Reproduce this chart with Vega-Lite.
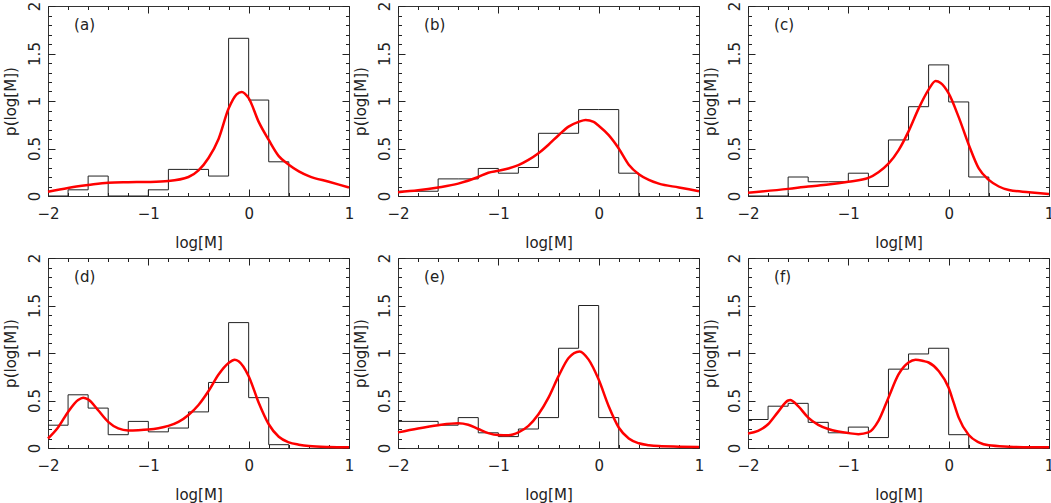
{
  "$schema": "https://vega.github.io/schema/vega-lite/v6.json",
  "padding": {"left": 2, "top": 0, "right": 0, "bottom": 0},
  "data": {
    "values": [
      {"panel": "a", "kind": "hist", "x": -2, "y": 0},
      {"panel": "a", "kind": "hist", "x": -1.8, "y": 0.065},
      {"panel": "a", "kind": "hist", "x": -1.6, "y": 0.21},
      {"panel": "a", "kind": "hist", "x": -1.4, "y": 0},
      {"panel": "a", "kind": "hist", "x": -1.2, "y": 0},
      {"panel": "a", "kind": "hist", "x": -1.0, "y": 0.065},
      {"panel": "a", "kind": "hist", "x": -0.8, "y": 0.28},
      {"panel": "a", "kind": "hist", "x": -0.6, "y": 0.28},
      {"panel": "a", "kind": "hist", "x": -0.4, "y": 0.21},
      {"panel": "a", "kind": "hist", "x": -0.2, "y": 1.66},
      {"panel": "a", "kind": "hist", "x": 0, "y": 1.01},
      {"panel": "a", "kind": "hist", "x": 0.2, "y": 0.36},
      {"panel": "a", "kind": "hist", "x": 0.4, "y": 0},

      {"panel": "b", "kind": "hist", "x": -2, "y": 0.05},
      {"panel": "b", "kind": "hist", "x": -1.8, "y": 0.05},
      {"panel": "b", "kind": "hist", "x": -1.6, "y": 0.18},
      {"panel": "b", "kind": "hist", "x": -1.4, "y": 0.18},
      {"panel": "b", "kind": "hist", "x": -1.2, "y": 0.29},
      {"panel": "b", "kind": "hist", "x": -1.0, "y": 0.24},
      {"panel": "b", "kind": "hist", "x": -0.8, "y": 0.3},
      {"panel": "b", "kind": "hist", "x": -0.6, "y": 0.66},
      {"panel": "b", "kind": "hist", "x": -0.4, "y": 0.66},
      {"panel": "b", "kind": "hist", "x": -0.2, "y": 0.91},
      {"panel": "b", "kind": "hist", "x": 0, "y": 0.91},
      {"panel": "b", "kind": "hist", "x": 0.2, "y": 0.24},
      {"panel": "b", "kind": "hist", "x": 0.4, "y": 0},

      {"panel": "c", "kind": "hist", "x": -2, "y": 0},
      {"panel": "c", "kind": "hist", "x": -1.8, "y": 0},
      {"panel": "c", "kind": "hist", "x": -1.6, "y": 0.2},
      {"panel": "c", "kind": "hist", "x": -1.4, "y": 0.15},
      {"panel": "c", "kind": "hist", "x": -1.2, "y": 0.15},
      {"panel": "c", "kind": "hist", "x": -1.0, "y": 0.24},
      {"panel": "c", "kind": "hist", "x": -0.8, "y": 0.1},
      {"panel": "c", "kind": "hist", "x": -0.6, "y": 0.59},
      {"panel": "c", "kind": "hist", "x": -0.4, "y": 0.94},
      {"panel": "c", "kind": "hist", "x": -0.2, "y": 1.38},
      {"panel": "c", "kind": "hist", "x": 0, "y": 0.99},
      {"panel": "c", "kind": "hist", "x": 0.2, "y": 0.2},
      {"panel": "c", "kind": "hist", "x": 0.4, "y": 0},

      {"panel": "d", "kind": "hist", "x": -2, "y": 0.24},
      {"panel": "d", "kind": "hist", "x": -1.8, "y": 0.56},
      {"panel": "d", "kind": "hist", "x": -1.6, "y": 0.42},
      {"panel": "d", "kind": "hist", "x": -1.4, "y": 0.14},
      {"panel": "d", "kind": "hist", "x": -1.2, "y": 0.28},
      {"panel": "d", "kind": "hist", "x": -1.0, "y": 0.17},
      {"panel": "d", "kind": "hist", "x": -0.8, "y": 0.21},
      {"panel": "d", "kind": "hist", "x": -0.6, "y": 0.38},
      {"panel": "d", "kind": "hist", "x": -0.4, "y": 0.69},
      {"panel": "d", "kind": "hist", "x": -0.2, "y": 1.32},
      {"panel": "d", "kind": "hist", "x": 0, "y": 0.53},
      {"panel": "d", "kind": "hist", "x": 0.2, "y": 0.035},
      {"panel": "d", "kind": "hist", "x": 0.4, "y": 0},

      {"panel": "e", "kind": "hist", "x": -2, "y": 0.28},
      {"panel": "e", "kind": "hist", "x": -1.8, "y": 0.28},
      {"panel": "e", "kind": "hist", "x": -1.6, "y": 0.24},
      {"panel": "e", "kind": "hist", "x": -1.4, "y": 0.32},
      {"panel": "e", "kind": "hist", "x": -1.2, "y": 0.16},
      {"panel": "e", "kind": "hist", "x": -1.0, "y": 0.12},
      {"panel": "e", "kind": "hist", "x": -0.8, "y": 0.2},
      {"panel": "e", "kind": "hist", "x": -0.6, "y": 0.32},
      {"panel": "e", "kind": "hist", "x": -0.4, "y": 1.05},
      {"panel": "e", "kind": "hist", "x": -0.2, "y": 1.5},
      {"panel": "e", "kind": "hist", "x": 0, "y": 0.32},
      {"panel": "e", "kind": "hist", "x": 0.2, "y": 0},

      {"panel": "f", "kind": "hist", "x": -2, "y": 0.3},
      {"panel": "f", "kind": "hist", "x": -1.8, "y": 0.44},
      {"panel": "f", "kind": "hist", "x": -1.6, "y": 0.47},
      {"panel": "f", "kind": "hist", "x": -1.4, "y": 0.27},
      {"panel": "f", "kind": "hist", "x": -1.2, "y": 0.16},
      {"panel": "f", "kind": "hist", "x": -1.0, "y": 0.22},
      {"panel": "f", "kind": "hist", "x": -0.8, "y": 0.11},
      {"panel": "f", "kind": "hist", "x": -0.6, "y": 0.83},
      {"panel": "f", "kind": "hist", "x": -0.4, "y": 0.99},
      {"panel": "f", "kind": "hist", "x": -0.2, "y": 1.05},
      {"panel": "f", "kind": "hist", "x": 0, "y": 0.14},
      {"panel": "f", "kind": "hist", "x": 0.2, "y": 0},

      {"panel": "a", "kind": "fit", "x": -2, "y": 0.045},
      {"panel": "a", "kind": "fit", "x": -1.8, "y": 0.085},
      {"panel": "a", "kind": "fit", "x": -1.6, "y": 0.115},
      {"panel": "a", "kind": "fit", "x": -1.4, "y": 0.14},
      {"panel": "a", "kind": "fit", "x": -1.2, "y": 0.145},
      {"panel": "a", "kind": "fit", "x": -1.0, "y": 0.148},
      {"panel": "a", "kind": "fit", "x": -0.8, "y": 0.158},
      {"panel": "a", "kind": "fit", "x": -0.6, "y": 0.2},
      {"panel": "a", "kind": "fit", "x": -0.5, "y": 0.27},
      {"panel": "a", "kind": "fit", "x": -0.4, "y": 0.4},
      {"panel": "a", "kind": "fit", "x": -0.3, "y": 0.6},
      {"panel": "a", "kind": "fit", "x": -0.2, "y": 0.92},
      {"panel": "a", "kind": "fit", "x": -0.12, "y": 1.07},
      {"panel": "a", "kind": "fit", "x": -0.07, "y": 1.096},
      {"panel": "a", "kind": "fit", "x": 0, "y": 1.03},
      {"panel": "a", "kind": "fit", "x": 0.1, "y": 0.78},
      {"panel": "a", "kind": "fit", "x": 0.2, "y": 0.59},
      {"panel": "a", "kind": "fit", "x": 0.3, "y": 0.42},
      {"panel": "a", "kind": "fit", "x": 0.4, "y": 0.33},
      {"panel": "a", "kind": "fit", "x": 0.5, "y": 0.26},
      {"panel": "a", "kind": "fit", "x": 0.6, "y": 0.21},
      {"panel": "a", "kind": "fit", "x": 0.8, "y": 0.15},
      {"panel": "a", "kind": "fit", "x": 1.0, "y": 0.09},

      {"panel": "b", "kind": "fit", "x": -2, "y": 0.04},
      {"panel": "b", "kind": "fit", "x": -1.8, "y": 0.06},
      {"panel": "b", "kind": "fit", "x": -1.6, "y": 0.09},
      {"panel": "b", "kind": "fit", "x": -1.4, "y": 0.13},
      {"panel": "b", "kind": "fit", "x": -1.2, "y": 0.2},
      {"panel": "b", "kind": "fit", "x": -1.1, "y": 0.245},
      {"panel": "b", "kind": "fit", "x": -1.0, "y": 0.265},
      {"panel": "b", "kind": "fit", "x": -0.9, "y": 0.29},
      {"panel": "b", "kind": "fit", "x": -0.8, "y": 0.325},
      {"panel": "b", "kind": "fit", "x": -0.7, "y": 0.38},
      {"panel": "b", "kind": "fit", "x": -0.6, "y": 0.45},
      {"panel": "b", "kind": "fit", "x": -0.5, "y": 0.54},
      {"panel": "b", "kind": "fit", "x": -0.4, "y": 0.64},
      {"panel": "b", "kind": "fit", "x": -0.3, "y": 0.73},
      {"panel": "b", "kind": "fit", "x": -0.2, "y": 0.78},
      {"panel": "b", "kind": "fit", "x": -0.13, "y": 0.8},
      {"panel": "b", "kind": "fit", "x": -0.05, "y": 0.78},
      {"panel": "b", "kind": "fit", "x": 0, "y": 0.74},
      {"panel": "b", "kind": "fit", "x": 0.1, "y": 0.64},
      {"panel": "b", "kind": "fit", "x": 0.2, "y": 0.5},
      {"panel": "b", "kind": "fit", "x": 0.3, "y": 0.33},
      {"panel": "b", "kind": "fit", "x": 0.4, "y": 0.23},
      {"panel": "b", "kind": "fit", "x": 0.5, "y": 0.17},
      {"panel": "b", "kind": "fit", "x": 0.6, "y": 0.13},
      {"panel": "b", "kind": "fit", "x": 0.8, "y": 0.09},
      {"panel": "b", "kind": "fit", "x": 1.0, "y": 0.05},

      {"panel": "c", "kind": "fit", "x": -2, "y": 0.035},
      {"panel": "c", "kind": "fit", "x": -1.6, "y": 0.075},
      {"panel": "c", "kind": "fit", "x": -1.4, "y": 0.1},
      {"panel": "c", "kind": "fit", "x": -1.2, "y": 0.12},
      {"panel": "c", "kind": "fit", "x": -1.0, "y": 0.15},
      {"panel": "c", "kind": "fit", "x": -0.8, "y": 0.19},
      {"panel": "c", "kind": "fit", "x": -0.7, "y": 0.25},
      {"panel": "c", "kind": "fit", "x": -0.6, "y": 0.34},
      {"panel": "c", "kind": "fit", "x": -0.5, "y": 0.48},
      {"panel": "c", "kind": "fit", "x": -0.4, "y": 0.68},
      {"panel": "c", "kind": "fit", "x": -0.3, "y": 0.92},
      {"panel": "c", "kind": "fit", "x": -0.2, "y": 1.12},
      {"panel": "c", "kind": "fit", "x": -0.13, "y": 1.21},
      {"panel": "c", "kind": "fit", "x": -0.08, "y": 1.19},
      {"panel": "c", "kind": "fit", "x": 0, "y": 1.08},
      {"panel": "c", "kind": "fit", "x": 0.1, "y": 0.83},
      {"panel": "c", "kind": "fit", "x": 0.2, "y": 0.54},
      {"panel": "c", "kind": "fit", "x": 0.3, "y": 0.29},
      {"panel": "c", "kind": "fit", "x": 0.4, "y": 0.17},
      {"panel": "c", "kind": "fit", "x": 0.5, "y": 0.1},
      {"panel": "c", "kind": "fit", "x": 0.6, "y": 0.063},
      {"panel": "c", "kind": "fit", "x": 0.8, "y": 0.04},
      {"panel": "c", "kind": "fit", "x": 1.0, "y": 0.02},

      {"panel": "d", "kind": "fit", "x": -2, "y": 0.1},
      {"panel": "d", "kind": "fit", "x": -1.9, "y": 0.216},
      {"panel": "d", "kind": "fit", "x": -1.8, "y": 0.38},
      {"panel": "d", "kind": "fit", "x": -1.7, "y": 0.505},
      {"panel": "d", "kind": "fit", "x": -1.65, "y": 0.53},
      {"panel": "d", "kind": "fit", "x": -1.6, "y": 0.512},
      {"panel": "d", "kind": "fit", "x": -1.5, "y": 0.397},
      {"panel": "d", "kind": "fit", "x": -1.4, "y": 0.275},
      {"panel": "d", "kind": "fit", "x": -1.3, "y": 0.206},
      {"panel": "d", "kind": "fit", "x": -1.2, "y": 0.185},
      {"panel": "d", "kind": "fit", "x": -1.1, "y": 0.188},
      {"panel": "d", "kind": "fit", "x": -1.0, "y": 0.195},
      {"panel": "d", "kind": "fit", "x": -0.9, "y": 0.209},
      {"panel": "d", "kind": "fit", "x": -0.8, "y": 0.233},
      {"panel": "d", "kind": "fit", "x": -0.7, "y": 0.275},
      {"panel": "d", "kind": "fit", "x": -0.6, "y": 0.348},
      {"panel": "d", "kind": "fit", "x": -0.5, "y": 0.453},
      {"panel": "d", "kind": "fit", "x": -0.4, "y": 0.6},
      {"panel": "d", "kind": "fit", "x": -0.3, "y": 0.774},
      {"panel": "d", "kind": "fit", "x": -0.2, "y": 0.895},
      {"panel": "d", "kind": "fit", "x": -0.14, "y": 0.93},
      {"panel": "d", "kind": "fit", "x": -0.1, "y": 0.913},
      {"panel": "d", "kind": "fit", "x": 0, "y": 0.756},
      {"panel": "d", "kind": "fit", "x": 0.1, "y": 0.477},
      {"panel": "d", "kind": "fit", "x": 0.2, "y": 0.25},
      {"panel": "d", "kind": "fit", "x": 0.3, "y": 0.118},
      {"panel": "d", "kind": "fit", "x": 0.4, "y": 0.06},
      {"panel": "d", "kind": "fit", "x": 0.5, "y": 0.035},
      {"panel": "d", "kind": "fit", "x": 0.6, "y": 0.02},
      {"panel": "d", "kind": "fit", "x": 0.8, "y": 0.01},
      {"panel": "d", "kind": "fit", "x": 1.0, "y": 0.007},

      {"panel": "e", "kind": "fit", "x": -2, "y": 0.164},
      {"panel": "e", "kind": "fit", "x": -1.8, "y": 0.206},
      {"panel": "e", "kind": "fit", "x": -1.6, "y": 0.24},
      {"panel": "e", "kind": "fit", "x": -1.4, "y": 0.26},
      {"panel": "e", "kind": "fit", "x": -1.3, "y": 0.244},
      {"panel": "e", "kind": "fit", "x": -1.2, "y": 0.2},
      {"panel": "e", "kind": "fit", "x": -1.1, "y": 0.157},
      {"panel": "e", "kind": "fit", "x": -1.0, "y": 0.136},
      {"panel": "e", "kind": "fit", "x": -0.9, "y": 0.134},
      {"panel": "e", "kind": "fit", "x": -0.8, "y": 0.164},
      {"panel": "e", "kind": "fit", "x": -0.7, "y": 0.233},
      {"panel": "e", "kind": "fit", "x": -0.6, "y": 0.355},
      {"panel": "e", "kind": "fit", "x": -0.5, "y": 0.53},
      {"panel": "e", "kind": "fit", "x": -0.4, "y": 0.756},
      {"panel": "e", "kind": "fit", "x": -0.3, "y": 0.948},
      {"panel": "e", "kind": "fit", "x": -0.19, "y": 1.017},
      {"panel": "e", "kind": "fit", "x": -0.1, "y": 0.93},
      {"panel": "e", "kind": "fit", "x": 0, "y": 0.72},
      {"panel": "e", "kind": "fit", "x": 0.1, "y": 0.44},
      {"panel": "e", "kind": "fit", "x": 0.2, "y": 0.216},
      {"panel": "e", "kind": "fit", "x": 0.3, "y": 0.1},
      {"panel": "e", "kind": "fit", "x": 0.4, "y": 0.05},
      {"panel": "e", "kind": "fit", "x": 0.5, "y": 0.03},
      {"panel": "e", "kind": "fit", "x": 0.6, "y": 0.02},
      {"panel": "e", "kind": "fit", "x": 0.8, "y": 0.014},
      {"panel": "e", "kind": "fit", "x": 1.0, "y": 0.01},

      {"panel": "f", "kind": "fit", "x": -2, "y": 0.153},
      {"panel": "f", "kind": "fit", "x": -1.9, "y": 0.18},
      {"panel": "f", "kind": "fit", "x": -1.8, "y": 0.25},
      {"panel": "f", "kind": "fit", "x": -1.7, "y": 0.38},
      {"panel": "f", "kind": "fit", "x": -1.6, "y": 0.5},
      {"panel": "f", "kind": "fit", "x": -1.58, "y": 0.505},
      {"panel": "f", "kind": "fit", "x": -1.5, "y": 0.44},
      {"panel": "f", "kind": "fit", "x": -1.4, "y": 0.32},
      {"panel": "f", "kind": "fit", "x": -1.3, "y": 0.244},
      {"panel": "f", "kind": "fit", "x": -1.2, "y": 0.2},
      {"panel": "f", "kind": "fit", "x": -1.1, "y": 0.174},
      {"panel": "f", "kind": "fit", "x": -1.0, "y": 0.157},
      {"panel": "f", "kind": "fit", "x": -0.9, "y": 0.146},
      {"panel": "f", "kind": "fit", "x": -0.8, "y": 0.164},
      {"panel": "f", "kind": "fit", "x": -0.7, "y": 0.286},
      {"panel": "f", "kind": "fit", "x": -0.6, "y": 0.53},
      {"panel": "f", "kind": "fit", "x": -0.5, "y": 0.774},
      {"panel": "f", "kind": "fit", "x": -0.4, "y": 0.9},
      {"panel": "f", "kind": "fit", "x": -0.33, "y": 0.93},
      {"panel": "f", "kind": "fit", "x": -0.25, "y": 0.915},
      {"panel": "f", "kind": "fit", "x": -0.2, "y": 0.9},
      {"panel": "f", "kind": "fit", "x": -0.1, "y": 0.81},
      {"panel": "f", "kind": "fit", "x": 0, "y": 0.634},
      {"panel": "f", "kind": "fit", "x": 0.05, "y": 0.477},
      {"panel": "f", "kind": "fit", "x": 0.1, "y": 0.32},
      {"panel": "f", "kind": "fit", "x": 0.2, "y": 0.136},
      {"panel": "f", "kind": "fit", "x": 0.3, "y": 0.06},
      {"panel": "f", "kind": "fit", "x": 0.4, "y": 0.028},
      {"panel": "f", "kind": "fit", "x": 0.6, "y": 0.014},
      {"panel": "f", "kind": "fit", "x": 0.8, "y": 0.007},
      {"panel": "f", "kind": "fit", "x": 1.0, "y": 0.007},

      {"panel": "a", "kind": "label", "label": "(a)"},
      {"panel": "b", "kind": "label", "label": "(b)"},
      {"panel": "c", "kind": "label", "label": "(c)"},
      {"panel": "d", "kind": "label", "label": "(d)"},
      {"panel": "e", "kind": "label", "label": "(e)"},
      {"panel": "f", "kind": "label", "label": "(f)"}
    ]
  },
  "columns": 3,
  "spacing": {"row": 62, "column": 49},
  "bounds": "flush",
  "concat": [
    {
      "width": 301, "height": 190,
      "layer": [
        {"transform": [{"filter": "datum.kind === 'hist' && datum.panel === 'a'"}], "mark": {"type": "line", "interpolate": "step-after", "color": "#222", "strokeWidth": 1},
         "encoding": {
           "x": {"field": "x", "type": "quantitative", "scale": {"domain": [-2, 1], "nice": false, "zero": false}, "axis": {"orient": "bottom", "title": "log[M]", "titlePadding": 14, "labelPadding": 10, "offset": -7, "tickSize": 7, "values": [-2, -1, 0, 1], "labelExpr": "format(datum.value, '~g')"}},
           "y": {"field": "y", "type": "quantitative", "scale": {"domain": [0, 2], "nice": false, "zero": false}, "axis": {"orient": "left", "title": "p(log[M])", "titlePadding": 9, "labelPadding": 6, "offset": -7, "tickSize": 7, "labelAngle": 270, "labelAlign": "center", "labelBaseline": "bottom", "values": [0, 0.5, 1, 1.5, 2], "labelExpr": "format(datum.value, '~g')"}}
         }},
        {"transform": [{"filter": "datum.kind === 'fit' && datum.panel === 'a'"}], "mark": {"type": "line", "interpolate": "monotone", "color": "#ff0000", "strokeWidth": 2.5},
         "encoding": {
           "x": {"field": "x", "type": "quantitative", "axis": {"orient": "top", "title": null, "labels": false, "offset": -7, "tickSize": 7, "values": [-2, -1, 0, 1]}},
           "y": {"field": "y", "type": "quantitative", "axis": {"orient": "right", "title": null, "labels": false, "offset": -7, "tickSize": 7, "values": [0, 0.5, 1, 1.5, 2]}}
         }},
        {"transform": [{"filter": "datum.kind === 'label' && datum.panel === 'a'"}], "mark": {"type": "text", "align": "left", "baseline": "middle", "fontSize": 15, "font": "DejaVu Sans", "color": "#222"},
         "encoding": {
           "x": {"datum": -1.74, "type": "quantitative", "axis": {"orient": "bottom", "title": null, "labels": false, "offset": -3.5, "tickSize": 3.5, "values": [-1.8, -1.6, -1.4, -1.2, -0.8, -0.6, -0.4, -0.2, 0.2, 0.4, 0.6, 0.8]}},
           "y": {"datum": 1.8, "type": "quantitative", "axis": {"orient": "left", "title": null, "labels": false, "offset": -3.5, "tickSize": 3.5, "values": [0.1, 0.2, 0.3, 0.4, 0.6, 0.7, 0.8, 0.9, 1.1, 1.2, 1.3, 1.4, 1.6, 1.7, 1.8, 1.9]}},
           "text": {"field": "label"}
         }},
        {"transform": [{"filter": "datum.kind === 'minor' && datum.panel === 'a'"}], "mark": {"type": "line"},
         "encoding": {
           "x": {"field": "x", "type": "quantitative", "axis": {"orient": "top", "title": null, "labels": false, "offset": -3.5, "tickSize": 3.5, "values": [-1.8, -1.6, -1.4, -1.2, -0.8, -0.6, -0.4, -0.2, 0.2, 0.4, 0.6, 0.8]}},
           "y": {"field": "y", "type": "quantitative", "axis": {"orient": "right", "title": null, "labels": false, "offset": -3.5, "tickSize": 3.5, "values": [0.1, 0.2, 0.3, 0.4, 0.6, 0.7, 0.8, 0.9, 1.1, 1.2, 1.3, 1.4, 1.6, 1.7, 1.8, 1.9]}}
         }}
      ]
    },
    {
      "width": 301, "height": 190,
      "layer": [
        {"transform": [{"filter": "datum.kind === 'hist' && datum.panel === 'b'"}], "mark": {"type": "line", "interpolate": "step-after", "color": "#222", "strokeWidth": 1},
         "encoding": {
           "x": {"field": "x", "type": "quantitative", "scale": {"domain": [-2, 1], "nice": false, "zero": false}, "axis": {"orient": "bottom", "title": "log[M]", "titlePadding": 14, "labelPadding": 10, "offset": -7, "tickSize": 7, "values": [-2, -1, 0, 1], "labelExpr": "format(datum.value, '~g')"}},
           "y": {"field": "y", "type": "quantitative", "scale": {"domain": [0, 2], "nice": false, "zero": false}, "axis": {"orient": "left", "title": "p(log[M])", "titlePadding": 9, "labelPadding": 6, "offset": -7, "tickSize": 7, "labelAngle": 270, "labelAlign": "center", "labelBaseline": "bottom", "values": [0, 0.5, 1, 1.5, 2], "labelExpr": "format(datum.value, '~g')"}}
         }},
        {"transform": [{"filter": "datum.kind === 'fit' && datum.panel === 'b'"}], "mark": {"type": "line", "interpolate": "monotone", "color": "#ff0000", "strokeWidth": 2.5},
         "encoding": {
           "x": {"field": "x", "type": "quantitative", "axis": {"orient": "top", "title": null, "labels": false, "offset": -7, "tickSize": 7, "values": [-2, -1, 0, 1]}},
           "y": {"field": "y", "type": "quantitative", "axis": {"orient": "right", "title": null, "labels": false, "offset": -7, "tickSize": 7, "values": [0, 0.5, 1, 1.5, 2]}}
         }},
        {"transform": [{"filter": "datum.kind === 'label' && datum.panel === 'b'"}], "mark": {"type": "text", "align": "left", "baseline": "middle", "fontSize": 15, "font": "DejaVu Sans", "color": "#222"},
         "encoding": {
           "x": {"datum": -1.74, "type": "quantitative", "axis": {"orient": "bottom", "title": null, "labels": false, "offset": -3.5, "tickSize": 3.5, "values": [-1.8, -1.6, -1.4, -1.2, -0.8, -0.6, -0.4, -0.2, 0.2, 0.4, 0.6, 0.8]}},
           "y": {"datum": 1.8, "type": "quantitative", "axis": {"orient": "left", "title": null, "labels": false, "offset": -3.5, "tickSize": 3.5, "values": [0.1, 0.2, 0.3, 0.4, 0.6, 0.7, 0.8, 0.9, 1.1, 1.2, 1.3, 1.4, 1.6, 1.7, 1.8, 1.9]}},
           "text": {"field": "label"}
         }},
        {"transform": [{"filter": "datum.kind === 'minor' && datum.panel === 'b'"}], "mark": {"type": "line"},
         "encoding": {
           "x": {"field": "x", "type": "quantitative", "axis": {"orient": "top", "title": null, "labels": false, "offset": -3.5, "tickSize": 3.5, "values": [-1.8, -1.6, -1.4, -1.2, -0.8, -0.6, -0.4, -0.2, 0.2, 0.4, 0.6, 0.8]}},
           "y": {"field": "y", "type": "quantitative", "axis": {"orient": "right", "title": null, "labels": false, "offset": -3.5, "tickSize": 3.5, "values": [0.1, 0.2, 0.3, 0.4, 0.6, 0.7, 0.8, 0.9, 1.1, 1.2, 1.3, 1.4, 1.6, 1.7, 1.8, 1.9]}}
         }}
      ]
    },
    {
      "width": 301, "height": 190,
      "layer": [
        {"transform": [{"filter": "datum.kind === 'hist' && datum.panel === 'c'"}], "mark": {"type": "line", "interpolate": "step-after", "color": "#222", "strokeWidth": 1},
         "encoding": {
           "x": {"field": "x", "type": "quantitative", "scale": {"domain": [-2, 1], "nice": false, "zero": false}, "axis": {"orient": "bottom", "title": "log[M]", "titlePadding": 14, "labelPadding": 10, "offset": -7, "tickSize": 7, "values": [-2, -1, 0, 1], "labelExpr": "format(datum.value, '~g')"}},
           "y": {"field": "y", "type": "quantitative", "scale": {"domain": [0, 2], "nice": false, "zero": false}, "axis": {"orient": "left", "title": "p(log[M])", "titlePadding": 9, "labelPadding": 6, "offset": -7, "tickSize": 7, "labelAngle": 270, "labelAlign": "center", "labelBaseline": "bottom", "values": [0, 0.5, 1, 1.5, 2], "labelExpr": "format(datum.value, '~g')"}}
         }},
        {"transform": [{"filter": "datum.kind === 'fit' && datum.panel === 'c'"}], "mark": {"type": "line", "interpolate": "monotone", "color": "#ff0000", "strokeWidth": 2.5},
         "encoding": {
           "x": {"field": "x", "type": "quantitative", "axis": {"orient": "top", "title": null, "labels": false, "offset": -7, "tickSize": 7, "values": [-2, -1, 0, 1]}},
           "y": {"field": "y", "type": "quantitative", "axis": {"orient": "right", "title": null, "labels": false, "offset": -7, "tickSize": 7, "values": [0, 0.5, 1, 1.5, 2]}}
         }},
        {"transform": [{"filter": "datum.kind === 'label' && datum.panel === 'c'"}], "mark": {"type": "text", "align": "left", "baseline": "middle", "fontSize": 15, "font": "DejaVu Sans", "color": "#222"},
         "encoding": {
           "x": {"datum": -1.74, "type": "quantitative", "axis": {"orient": "bottom", "title": null, "labels": false, "offset": -3.5, "tickSize": 3.5, "values": [-1.8, -1.6, -1.4, -1.2, -0.8, -0.6, -0.4, -0.2, 0.2, 0.4, 0.6, 0.8]}},
           "y": {"datum": 1.8, "type": "quantitative", "axis": {"orient": "left", "title": null, "labels": false, "offset": -3.5, "tickSize": 3.5, "values": [0.1, 0.2, 0.3, 0.4, 0.6, 0.7, 0.8, 0.9, 1.1, 1.2, 1.3, 1.4, 1.6, 1.7, 1.8, 1.9]}},
           "text": {"field": "label"}
         }},
        {"transform": [{"filter": "datum.kind === 'minor' && datum.panel === 'c'"}], "mark": {"type": "line"},
         "encoding": {
           "x": {"field": "x", "type": "quantitative", "axis": {"orient": "top", "title": null, "labels": false, "offset": -3.5, "tickSize": 3.5, "values": [-1.8, -1.6, -1.4, -1.2, -0.8, -0.6, -0.4, -0.2, 0.2, 0.4, 0.6, 0.8]}},
           "y": {"field": "y", "type": "quantitative", "axis": {"orient": "right", "title": null, "labels": false, "offset": -3.5, "tickSize": 3.5, "values": [0.1, 0.2, 0.3, 0.4, 0.6, 0.7, 0.8, 0.9, 1.1, 1.2, 1.3, 1.4, 1.6, 1.7, 1.8, 1.9]}}
         }}
      ]
    },
    {
      "width": 301, "height": 190,
      "layer": [
        {"transform": [{"filter": "datum.kind === 'hist' && datum.panel === 'd'"}], "mark": {"type": "line", "interpolate": "step-after", "color": "#222", "strokeWidth": 1},
         "encoding": {
           "x": {"field": "x", "type": "quantitative", "scale": {"domain": [-2, 1], "nice": false, "zero": false}, "axis": {"orient": "bottom", "title": "log[M]", "titlePadding": 14, "labelPadding": 10, "offset": -7, "tickSize": 7, "values": [-2, -1, 0, 1], "labelExpr": "format(datum.value, '~g')"}},
           "y": {"field": "y", "type": "quantitative", "scale": {"domain": [0, 2], "nice": false, "zero": false}, "axis": {"orient": "left", "title": "p(log[M])", "titlePadding": 9, "labelPadding": 6, "offset": -7, "tickSize": 7, "labelAngle": 270, "labelAlign": "center", "labelBaseline": "bottom", "values": [0, 0.5, 1, 1.5, 2], "labelExpr": "format(datum.value, '~g')"}}
         }},
        {"transform": [{"filter": "datum.kind === 'fit' && datum.panel === 'd'"}], "mark": {"type": "line", "interpolate": "monotone", "color": "#ff0000", "strokeWidth": 2.5},
         "encoding": {
           "x": {"field": "x", "type": "quantitative", "axis": {"orient": "top", "title": null, "labels": false, "offset": -7, "tickSize": 7, "values": [-2, -1, 0, 1]}},
           "y": {"field": "y", "type": "quantitative", "axis": {"orient": "right", "title": null, "labels": false, "offset": -7, "tickSize": 7, "values": [0, 0.5, 1, 1.5, 2]}}
         }},
        {"transform": [{"filter": "datum.kind === 'label' && datum.panel === 'd'"}], "mark": {"type": "text", "align": "left", "baseline": "middle", "fontSize": 15, "font": "DejaVu Sans", "color": "#222"},
         "encoding": {
           "x": {"datum": -1.74, "type": "quantitative", "axis": {"orient": "bottom", "title": null, "labels": false, "offset": -3.5, "tickSize": 3.5, "values": [-1.8, -1.6, -1.4, -1.2, -0.8, -0.6, -0.4, -0.2, 0.2, 0.4, 0.6, 0.8]}},
           "y": {"datum": 1.8, "type": "quantitative", "axis": {"orient": "left", "title": null, "labels": false, "offset": -3.5, "tickSize": 3.5, "values": [0.1, 0.2, 0.3, 0.4, 0.6, 0.7, 0.8, 0.9, 1.1, 1.2, 1.3, 1.4, 1.6, 1.7, 1.8, 1.9]}},
           "text": {"field": "label"}
         }},
        {"transform": [{"filter": "datum.kind === 'minor' && datum.panel === 'd'"}], "mark": {"type": "line"},
         "encoding": {
           "x": {"field": "x", "type": "quantitative", "axis": {"orient": "top", "title": null, "labels": false, "offset": -3.5, "tickSize": 3.5, "values": [-1.8, -1.6, -1.4, -1.2, -0.8, -0.6, -0.4, -0.2, 0.2, 0.4, 0.6, 0.8]}},
           "y": {"field": "y", "type": "quantitative", "axis": {"orient": "right", "title": null, "labels": false, "offset": -3.5, "tickSize": 3.5, "values": [0.1, 0.2, 0.3, 0.4, 0.6, 0.7, 0.8, 0.9, 1.1, 1.2, 1.3, 1.4, 1.6, 1.7, 1.8, 1.9]}}
         }}
      ]
    },
    {
      "width": 301, "height": 190,
      "layer": [
        {"transform": [{"filter": "datum.kind === 'hist' && datum.panel === 'e'"}], "mark": {"type": "line", "interpolate": "step-after", "color": "#222", "strokeWidth": 1},
         "encoding": {
           "x": {"field": "x", "type": "quantitative", "scale": {"domain": [-2, 1], "nice": false, "zero": false}, "axis": {"orient": "bottom", "title": "log[M]", "titlePadding": 14, "labelPadding": 10, "offset": -7, "tickSize": 7, "values": [-2, -1, 0, 1], "labelExpr": "format(datum.value, '~g')"}},
           "y": {"field": "y", "type": "quantitative", "scale": {"domain": [0, 2], "nice": false, "zero": false}, "axis": {"orient": "left", "title": "p(log[M])", "titlePadding": 9, "labelPadding": 6, "offset": -7, "tickSize": 7, "labelAngle": 270, "labelAlign": "center", "labelBaseline": "bottom", "values": [0, 0.5, 1, 1.5, 2], "labelExpr": "format(datum.value, '~g')"}}
         }},
        {"transform": [{"filter": "datum.kind === 'fit' && datum.panel === 'e'"}], "mark": {"type": "line", "interpolate": "monotone", "color": "#ff0000", "strokeWidth": 2.5},
         "encoding": {
           "x": {"field": "x", "type": "quantitative", "axis": {"orient": "top", "title": null, "labels": false, "offset": -7, "tickSize": 7, "values": [-2, -1, 0, 1]}},
           "y": {"field": "y", "type": "quantitative", "axis": {"orient": "right", "title": null, "labels": false, "offset": -7, "tickSize": 7, "values": [0, 0.5, 1, 1.5, 2]}}
         }},
        {"transform": [{"filter": "datum.kind === 'label' && datum.panel === 'e'"}], "mark": {"type": "text", "align": "left", "baseline": "middle", "fontSize": 15, "font": "DejaVu Sans", "color": "#222"},
         "encoding": {
           "x": {"datum": -1.74, "type": "quantitative", "axis": {"orient": "bottom", "title": null, "labels": false, "offset": -3.5, "tickSize": 3.5, "values": [-1.8, -1.6, -1.4, -1.2, -0.8, -0.6, -0.4, -0.2, 0.2, 0.4, 0.6, 0.8]}},
           "y": {"datum": 1.8, "type": "quantitative", "axis": {"orient": "left", "title": null, "labels": false, "offset": -3.5, "tickSize": 3.5, "values": [0.1, 0.2, 0.3, 0.4, 0.6, 0.7, 0.8, 0.9, 1.1, 1.2, 1.3, 1.4, 1.6, 1.7, 1.8, 1.9]}},
           "text": {"field": "label"}
         }},
        {"transform": [{"filter": "datum.kind === 'minor' && datum.panel === 'e'"}], "mark": {"type": "line"},
         "encoding": {
           "x": {"field": "x", "type": "quantitative", "axis": {"orient": "top", "title": null, "labels": false, "offset": -3.5, "tickSize": 3.5, "values": [-1.8, -1.6, -1.4, -1.2, -0.8, -0.6, -0.4, -0.2, 0.2, 0.4, 0.6, 0.8]}},
           "y": {"field": "y", "type": "quantitative", "axis": {"orient": "right", "title": null, "labels": false, "offset": -3.5, "tickSize": 3.5, "values": [0.1, 0.2, 0.3, 0.4, 0.6, 0.7, 0.8, 0.9, 1.1, 1.2, 1.3, 1.4, 1.6, 1.7, 1.8, 1.9]}}
         }}
      ]
    },
    {
      "width": 301, "height": 190,
      "layer": [
        {"transform": [{"filter": "datum.kind === 'hist' && datum.panel === 'f'"}], "mark": {"type": "line", "interpolate": "step-after", "color": "#222", "strokeWidth": 1},
         "encoding": {
           "x": {"field": "x", "type": "quantitative", "scale": {"domain": [-2, 1], "nice": false, "zero": false}, "axis": {"orient": "bottom", "title": "log[M]", "titlePadding": 14, "labelPadding": 10, "offset": -7, "tickSize": 7, "values": [-2, -1, 0, 1], "labelExpr": "format(datum.value, '~g')"}},
           "y": {"field": "y", "type": "quantitative", "scale": {"domain": [0, 2], "nice": false, "zero": false}, "axis": {"orient": "left", "title": "p(log[M])", "titlePadding": 9, "labelPadding": 6, "offset": -7, "tickSize": 7, "labelAngle": 270, "labelAlign": "center", "labelBaseline": "bottom", "values": [0, 0.5, 1, 1.5, 2], "labelExpr": "format(datum.value, '~g')"}}
         }},
        {"transform": [{"filter": "datum.kind === 'fit' && datum.panel === 'f'"}], "mark": {"type": "line", "interpolate": "monotone", "color": "#ff0000", "strokeWidth": 2.5},
         "encoding": {
           "x": {"field": "x", "type": "quantitative", "axis": {"orient": "top", "title": null, "labels": false, "offset": -7, "tickSize": 7, "values": [-2, -1, 0, 1]}},
           "y": {"field": "y", "type": "quantitative", "axis": {"orient": "right", "title": null, "labels": false, "offset": -7, "tickSize": 7, "values": [0, 0.5, 1, 1.5, 2]}}
         }},
        {"transform": [{"filter": "datum.kind === 'label' && datum.panel === 'f'"}], "mark": {"type": "text", "align": "left", "baseline": "middle", "fontSize": 15, "font": "DejaVu Sans", "color": "#222"},
         "encoding": {
           "x": {"datum": -1.74, "type": "quantitative", "axis": {"orient": "bottom", "title": null, "labels": false, "offset": -3.5, "tickSize": 3.5, "values": [-1.8, -1.6, -1.4, -1.2, -0.8, -0.6, -0.4, -0.2, 0.2, 0.4, 0.6, 0.8]}},
           "y": {"datum": 1.8, "type": "quantitative", "axis": {"orient": "left", "title": null, "labels": false, "offset": -3.5, "tickSize": 3.5, "values": [0.1, 0.2, 0.3, 0.4, 0.6, 0.7, 0.8, 0.9, 1.1, 1.2, 1.3, 1.4, 1.6, 1.7, 1.8, 1.9]}},
           "text": {"field": "label"}
         }},
        {"transform": [{"filter": "datum.kind === 'minor' && datum.panel === 'f'"}], "mark": {"type": "line"},
         "encoding": {
           "x": {"field": "x", "type": "quantitative", "axis": {"orient": "top", "title": null, "labels": false, "offset": -3.5, "tickSize": 3.5, "values": [-1.8, -1.6, -1.4, -1.2, -0.8, -0.6, -0.4, -0.2, 0.2, 0.4, 0.6, 0.8]}},
           "y": {"field": "y", "type": "quantitative", "axis": {"orient": "right", "title": null, "labels": false, "offset": -3.5, "tickSize": 3.5, "values": [0.1, 0.2, 0.3, 0.4, 0.6, 0.7, 0.8, 0.9, 1.1, 1.2, 1.3, 1.4, 1.6, 1.7, 1.8, 1.9]}}
         }}
      ]
    }
  ],
  "config": {
    "view": {"stroke": "#333", "strokeWidth": 1},
    "axis": {
      "grid": false,
      "domain": false,
      "ticks": true,
      "tickColor": "#222",
      "tickWidth": 1,
      "tickOpacity": 1,
      "labelFlush": false,
      "labelFont": "DejaVu Sans",
      "labelFontSize": 15,
      "labelColor": "#222",
      "titleFont": "DejaVu Sans",
      "titleFontSize": 15,
      "titleFontWeight": "normal",
      "titleColor": "#222"
    }
  }
}
